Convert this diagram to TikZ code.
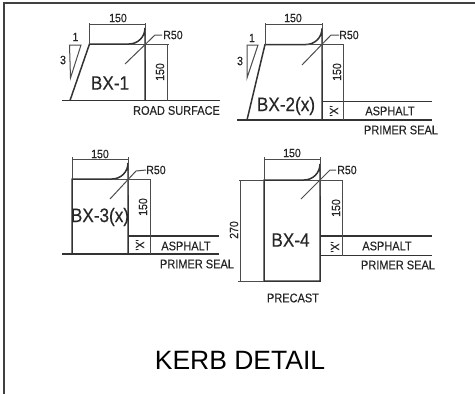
\documentclass[tikz,border=0pt]{standalone}
\usepackage{fontspec}
\setmainfont{Liberation Sans}
\newfontfamily\cadfont[FakeStretch=0.88, FakeBold=0.25]{Liberation Sans}
\tikzset{
	kerb/.style={line width=1.5pt, color=black!80},
	dimen/.style={line width=1pt, color=black!70},
	cadsmall/.style={inner sep=0pt, color=black!85, font=\cadfont\fontsize{12}{14}\selectfont},
	cadnote/.style={inner sep=0pt, color=black!85, font=\cadfont\fontsize{12.5}{14}\selectfont},
	cadname/.style={inner sep=0pt, color=black!85, font=\cadfont\fontsize{19.5}{21}\selectfont}
}

\begin{document}
\begin{tikzpicture}[x=1pt, y=-1pt]
			%%%%% START %%%%%
			\useasboundingbox (0, 0) rectangle (475, 394);
			
			\draw[line width=1.2pt, color=black!75] (4, 394) -- (4, 3) -- (475, 3);
			
			%%%%% BX-1 %%%%%
			\draw[kerb] (62, 100.5) -- (220, 100.5);
			\draw[kerb] (70, 100.5) -- (89.5, 44) -- (129, 44) arc (90:0:16) -- (145, 100.5);
			\draw[dimen] (89.5, 23) -- (89.5, 44);
			\draw[dimen] (145, 23) -- (145, 60);
			\draw[dimen] (89.5, 24) -- (145, 24);
			\draw[dimen] (129, 44) -- (169, 44);
			\draw[dimen] (167, 44) -- (167, 100.5);
			\draw[dimen] (125, 64) -- (155, 35) -- (162, 35);
			\draw[dimen] (69.5, 45) -- (81, 45) -- (70.5, 78) -- cycle;
			\node[cadsmall] (widthA) at (118, 18) {150};
			\node[cadsmall] (radiusA) at (173, 35) {R50};
			\node[cadsmall, rotate=90] (heightA) at (160, 72) {150};
			\node[cadsmall] (runA) at (75.5, 37) {1};
			\node[cadsmall] (riseA) at (63, 60) {3};
			\node[cadname] (nameA) at (110, 83) {BX-1};
			\node[cadnote] (roadA) at (176.5, 110.5) {ROAD SURFACE};
			
			%%%%% BX-2 %%%%%
			\draw[kerb] (237, 120) -- (432, 120);
			\draw[kerb] (322, 101.5) -- (432, 101.5);
			\draw[kerb] (247, 120) -- (265, 44.5) -- (306, 44.5) arc (90:0:16) -- (322, 120);
			\draw[dimen] (265, 23) -- (265, 44.5);
			\draw[dimen] (322, 23) -- (322, 60);
			\draw[dimen] (265, 24) -- (322, 24);
			\draw[dimen] (306, 44.5) -- (344, 44.5);
			\draw[dimen] (343, 44.5) -- (343, 120);
			\draw[dimen] (302, 65) -- (331, 35) -- (339, 35);
			\draw[dimen] (247, 45) -- (258, 45) -- (247, 78) -- cycle;
			\node[cadsmall] (widthB) at (293, 18) {150};
			\node[cadsmall] (radiusB) at (349, 35) {R50};
			\node[cadsmall, rotate=90] (heightB) at (337, 72) {150};
			\node[cadsmall, rotate=90] (depthB) at (334, 111) {'X'};
			\node[cadsmall] (runB) at (252, 38) {1};
			\node[cadsmall] (riseB) at (240, 61) {3};
			\node[cadname] (nameB) at (286, 106) {BX-2(x)};
			\node[cadnote] (asphaltB) at (390, 111) {ASPHALT};
			\node[cadnote] (sealB) at (401, 130) {PRIMER SEAL};
			
			%%%%% BX-3 %%%%%
			\draw[kerb] (62, 254) -- (219, 254);
			\draw[kerb] (128, 236) -- (219, 236);
			\draw[kerb] (72, 254) -- (72, 179) -- (112, 179) arc (90:0:16) -- (128, 254);
			\draw[dimen] (72, 157) -- (72, 179);
			\draw[dimen] (128, 157) -- (128, 195);
			\draw[dimen] (72, 159) -- (128, 159);
			\draw[dimen] (112, 179) -- (151, 179);
			\draw[dimen] (150, 179) -- (150, 254);
			\draw[dimen] (110, 199) -- (136, 171) -- (146, 170);
			\node[cadsmall] (widthC) at (100, 154) {150};
			\node[cadsmall] (radiusC) at (156, 170) {R50};
			\node[cadsmall, rotate=90] (heightC) at (143, 207) {150};
			\node[cadsmall, rotate=90] (depthC) at (140, 245) {'X'};
			\node[cadname] (nameC) at (100, 217) {BX-3(x)};
			\node[cadnote] (asphaltC) at (186, 246) {ASPHALT};
			\node[cadnote] (sealC) at (197, 264) {PRIMER SEAL};
			
			%%%%% BX-4 %%%%%
			\draw[kerb] (320, 236) -- (432, 236);
			\draw[kerb] (320, 255.5) -- (432, 255.5);
			\draw[kerb] (264, 180) -- (304, 180) arc (90:0:16) -- (320, 281) -- (264, 281) -- cycle;
			\draw[dimen] (264, 157) -- (264, 180);
			\draw[dimen] (320, 157) -- (320, 196);
			\draw[dimen] (264, 159.5) -- (320, 159.5);
			\draw[dimen] (239, 180) -- (264, 180);
			\draw[dimen] (304, 180) -- (343, 180);
			\draw[dimen] (238, 281) -- (264, 281);
			\draw[dimen] (240.5, 180) -- (240.5, 281);
			\draw[dimen] (342, 180) -- (342, 255.5);
			\draw[dimen] (301, 199) -- (330, 170) -- (336, 170);
			\node[cadsmall] (widthD) at (292, 153) {150};
			\node[cadsmall] (radiusD) at (347, 170) {R50};
			\node[cadsmall, rotate=90] (heightD) at (336, 208) {150};
			\node[cadsmall, rotate=90] (depthD) at (335, 247) {'X'};
			\node[cadsmall, rotate=90] (heightE) at (234, 230) {270};
			\node[cadname] (nameD) at (290.5, 240) {BX-4};
			\node[cadnote] (asphaltD) at (387, 246) {ASPHALT};
			\node[cadnote] (sealD) at (398, 265) {PRIMER SEAL};
			\node[cadnote] (precast) at (293, 298) {PRECAST};
			
			\node[inner sep=0pt, font=\fontsize{26.5}{30}\selectfont] (title) at (240, 360) {KERB DETAIL};
			
			%%%%% END %%%%%
		\end{tikzpicture}
\end{document}
